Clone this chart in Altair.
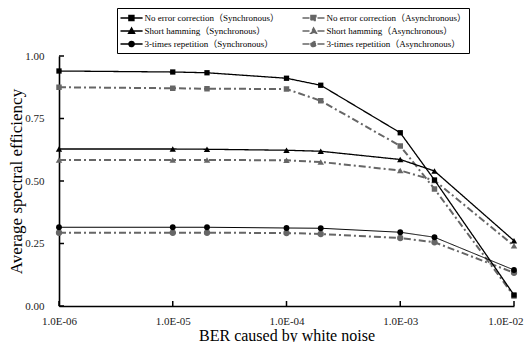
import json
import altair as alt
import pandas as pd

# ---------------- data ----------------
ber = [1e-6, 1e-5, 2e-5, 1e-4, 2e-4, 1e-3, 2e-3, 1e-2]
noerr_sync = [0.940, 0.936, 0.933, 0.911, 0.883, 0.693, 0.504, 0.044]
noerr_async = [0.875, 0.871, 0.869, 0.868, 0.821, 0.640, 0.468, 0.040]
ham_sync = [0.628, 0.628, 0.627, 0.623, 0.619, 0.586, 0.540, 0.261]
ham_async = [0.584, 0.584, 0.584, 0.583, 0.576, 0.542, 0.502, 0.241]
rep_sync = [0.315, 0.315, 0.315, 0.312, 0.311, 0.295, 0.275, 0.144]
rep_async = [0.293, 0.293, 0.293, 0.292, 0.288, 0.272, 0.255, 0.133]

series_names = [
    "No error correction（Synchronous）",
    "No error correction（Asynchronous）",
    "Short hamming（Synchronous）",
    "Short hamming（Asynchronous）",
    "3-times repetition（Synchronous）",
    "3-times repetition（Asynchronous）",
]
series_values = [noerr_sync, noerr_async, ham_sync, ham_async, rep_sync, rep_async]

x_tick_values = [1e-6, 1e-5, 1e-4, 1e-3, 1e-2]
x_tick_labels = ["1.0E-06", "1.0E-05", "1.0E-04", "1.0E-03", "1.0E-02"]
y_tick_values = [0.0, 0.25, 0.5, 0.75, 1.0]

# ---------------- styles ----------------
BLACK = "#000000"
GREY = "#666666"
colors = [BLACK, GREY, BLACK, GREY, BLACK, GREY]
dashes = [[1, 0], [7, 3, 2, 3], [1, 0], [7, 3, 2, 3], [1, 0], [7, 3, 2, 3]]
widths = [1.3, 2.0, 1.3, 2.0, 1.0, 2.0]
shapes = ["square", "square", "triangle-up", "triangle-up", "circle", "circle"]
sizes = [28, 30, 40, 42, 34, 40]

# legend symbols: line segment + marker (custom SVG paths)
seg = "M-1,0L2.4,0"
sq = "M0.3,-0.38L1.06,-0.38L1.06,0.38L0.3,0.38Z"
tri = "M0.7,-0.45L1.15,0.35L0.25,0.35Z"
circ = "M0.3,0A0.4,0.4 0 1,0 1.1,0A0.4,0.4 0 1,0 0.3,0Z"
legend_paths = [seg + sq, seg + sq, seg + tri, seg + tri, seg + circ, seg + circ]

FONT = "Liberation Serif, Noto Sans CJK SC, serif"

rows = []
for name, vals in zip(series_names, series_values):
    for b, v in zip(ber, vals):
        rows.append({"series": name, "ber": b, "eff": v})
df = pd.DataFrame(rows)

label_expr = f"{json.dumps(x_tick_labels)}[round(log(datum.value)/LN10)+6]"
last_tick = f"datum.value == {x_tick_values[-1]}"

x_enc = alt.X(
    "ber:Q",
    scale=alt.Scale(type="log", domain=[1e-6, 1e-2], nice=False),
    axis=alt.Axis(
        values=x_tick_values, labelExpr=label_expr, title="BER caused by white noise",
        tickSize=0, labelPadding=9, grid=False, domainColor="black", domainWidth=1.6,
        labelFontSize=11, labelColor="#222222",
        labelAlign={"condition": {"test": last_tick, "value": "right"}, "value": "center"},
        labelOffset={"condition": {"test": last_tick, "value": 9}, "value": 0},
        titleFontSize=16, titleFontWeight="normal", titleColor="black",
        titleBaseline="alphabetic", titleY=34, labelFlush=False,
    ),
)
y_enc = alt.Y(
    "eff:Q",
    scale=alt.Scale(domain=[0, 1], nice=False),
    axis=alt.Axis(
        values=y_tick_values, format=".2f", title="Average spectral efficiency",
        tickSize=0, labelPadding=15, grid=False, domainColor="black", domainWidth=1.6,
        labelFontSize=11, labelColor="#222222",
        titleFontSize=17, titleFontWeight="normal", titleColor="black",
        titleBaseline="alphabetic", titleX=-38, titleY=125, labelFlush=False,
    ),
)

base = alt.Chart(df)
layers = []
# async first, sync on top
order = [1, 3, 5, 0, 2, 4]
for i in order:
    name = series_names[i]
    sub = base.transform_filter(alt.datum.series == name)
    layers.append(
        sub.mark_line(color=colors[i], strokeWidth=widths[i], strokeDash=dashes[i]).encode(
            x=x_enc, y=y_enc
        )
    )
    layers.append(
        sub.mark_point(
            shape=shapes[i], filled=True, size=sizes[i], color=colors[i], opacity=1
        ).encode(x=x_enc, y=y_enc)
    )

# inner tick marks
xt = alt.Chart(pd.DataFrame({"ber": x_tick_values})).mark_rule(
    color="black", strokeWidth=1.5
).encode(x=x_enc, y=alt.value(250), y2=alt.value(245))
yt = alt.Chart(pd.DataFrame({"eff": y_tick_values})).mark_rule(
    color="black", strokeWidth=1.5
).encode(y=y_enc, x=alt.value(0), x2=alt.value(5))
layers += [xt, yt]

# legend layer (no marks drawn, only the legend)
legend = alt.Legend(
    title=None, orient="none", legendX=58, legendY=-48, columns=2, direction="horizontal",
    labelFontSize=9, labelColor="black", labelLimit=0,
    symbolSize=169, symbolStrokeWidth=1.5, labelOffset=10,
    rowPadding=0, columnPadding=20, padding=2.5,
    strokeColor="black", fillColor="white",
)
leg = base.transform_filter("false").mark_point(filled=True, opacity=1).encode(
    x=x_enc, y=y_enc,
    shape=alt.Shape("series:N", scale=alt.Scale(domain=series_names, range=legend_paths), legend=legend),
    fill=alt.Fill("series:N", scale=alt.Scale(domain=series_names, range=colors), legend=legend),
    stroke=alt.Stroke("series:N", scale=alt.Scale(domain=series_names, range=colors), legend=legend),
    strokeDash=alt.StrokeDash("series:N", scale=alt.Scale(domain=series_names, range=dashes), legend=legend),
)
layers.append(leg)

chart = alt.layer(*layers).properties(
    width=455, height=250,
    autosize=alt.AutoSizeParams(type="none"),
    padding={"left": 51, "top": 48, "right": 10, "bottom": 36},
    background="white",
).configure(font=FONT).configure_axis(
    labelFont=FONT, titleFont=FONT
).configure_legend(labelFont=FONT).configure_view(stroke=None)

chart.save("out.html", embed_options={"renderer": "svg", "actions": False})
